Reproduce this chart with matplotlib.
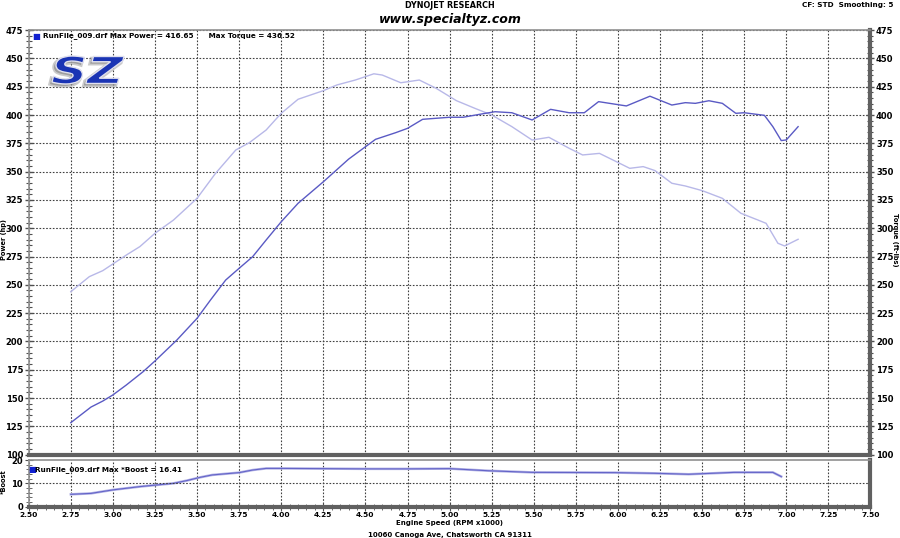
import matplotlib
matplotlib.use('Agg')
import matplotlib.pyplot as plt
from matplotlib.ticker import MultipleLocator
from matplotlib.textpath import TextPath
from matplotlib.patches import PathPatch
from matplotlib.font_manager import FontProperties
from matplotlib.transforms import Affine2D

# power curve (hp)
power_rpm = [2.75, 2.87, 2.94, 3.00, 3.08, 3.18, 3.25, 3.38, 3.50, 3.58, 3.67, 3.75,
             3.83, 3.91, 4.00, 4.10, 4.25, 4.40, 4.56, 4.68, 4.75, 4.84, 5.00, 5.08,
             5.19, 5.27, 5.37, 5.49, 5.60, 5.71, 5.80, 5.885, 6.05, 6.19, 6.32, 6.40,
             6.46, 6.54, 6.62, 6.70, 6.75, 6.87, 6.92, 6.97, 7.00, 7.07]
power_hp = [128.2, 142.0, 147.3, 152.7, 161.5, 173.3, 182.7, 201.2, 220.4, 236.6, 254.2, 264.6,
            274.8, 289.5, 305.7, 322.0, 341.0, 361.0, 378.5, 384.4, 388.2, 396.2, 398.0, 398.0,
            400.9, 402.9, 402.0, 395.6, 405.0, 402.0, 402.0, 411.8, 408.0, 416.6, 408.8, 410.9,
            410.3, 412.6, 410.3, 401.5, 402.0, 399.7, 389.7, 377.4, 378.0, 389.7]

# torque curve (ft-lbs)
torque_rpm = [2.75, 2.86, 2.94, 3.08, 3.16, 3.25, 3.36, 3.50, 3.61, 3.73, 3.81, 3.91,
              4.00, 4.10, 4.25, 4.33, 4.44, 4.55, 4.60, 4.71, 4.82, 4.92, 5.04, 5.15,
              5.25, 5.37, 5.49, 5.59, 5.71, 5.79, 5.89, 5.99, 6.07, 6.15, 6.22, 6.32,
              6.40, 6.50, 6.62, 6.73, 6.83, 6.88, 6.95, 6.99, 7.07]
torque_ftlb = [243.9, 257.2, 262.5, 276.3, 283.7, 295.5, 307.2, 326.4, 348.5, 369.1, 375.5, 386.7,
               401.5, 413.9, 421.5, 426.5, 430.9, 436.4, 435.3, 428.5, 430.9, 423.6, 412.7, 405.9,
               400.0, 389.7, 377.9, 380.3, 370.6, 364.7, 366.1, 358.8, 352.9, 354.4, 350.9, 339.7,
               337.3, 333.2, 326.4, 313.2, 307.3, 304.3, 286.7, 284.3, 290.2]

# boost (psi)
boost_rpm = [2.75, 2.87, 3.00, 3.16, 3.26, 3.36, 3.44, 3.52, 3.59, 3.75, 3.83, 3.91,
             4.00, 4.50, 4.75, 5.00, 5.23, 5.49, 5.98, 6.22, 6.42, 6.69, 6.92, 6.97]
boost_psi = [5.3, 5.7, 7.2, 8.6, 9.3, 10.0, 11.2, 12.6, 13.6, 14.6, 15.7, 16.4,
             16.4, 16.2, 16.2, 16.3, 15.4, 14.7, 14.6, 14.3, 13.9, 14.7, 14.7, 12.9]

power_color = '#5a5ac4'
torque_color = '#b8b8e8'
grid_kw = dict(color='#404040', linestyle=(0, (1.5, 1.5)), linewidth=0.8)
tick_font = dict(fontsize=6, fontweight='bold')

fig = plt.figure(figsize=(9, 5.38), dpi=100)

# main power / torque panel
ax = fig.add_axes([28.7 / 900, 1 - 454.6 / 538, 841.8 / 900, 424.5 / 538])
ax.plot(torque_rpm, torque_ftlb, color=torque_color, linewidth=1.0)
ax.plot(power_rpm, power_hp, color=power_color, linewidth=1.0)
ax.set_xlim(2.5, 7.5)
ax.set_ylim(100, 475)
ax.xaxis.set_major_locator(MultipleLocator(0.25))
ax.yaxis.set_minor_locator(MultipleLocator(5))
ax.grid(True, which='major', **grid_kw)
ax.tick_params(axis='x', which='both', bottom=False, labelbottom=False)
ax.tick_params(axis='y', which='both', left=True, right=True, labelleft=True, labelright=True,
               direction='inout', color='#505050', pad=1)
ax.tick_params(axis='y', which='major', length=6, width=1)
ax.tick_params(axis='y', which='minor', length=4, width=0.8)
ax.set_yticks(range(100, 476, 25))
ax.set_yticklabels([str(v) for v in range(100, 476, 25)], **tick_font)
for side in ['left', 'top']:
    ax.spines[side].set_color('#909090')
    ax.spines[side].set_linewidth(1.2)
for side in ['right', 'bottom']:
    ax.spines[side].set_color('#606060')
    ax.spines[side].set_linewidth(3)

ax.text(0.004, 0.995, '\u25a0', transform=ax.transAxes, color='#1020d0', fontsize=6,
        va='top', ha='left')
ax.text(0.017, 0.995, 'RunFile_009.drf Max Power = 416.65      Max Torque = 436.52',
        transform=ax.transAxes, fontsize=5.2, fontweight='bold', va='top', ha='left')

# SZ logo
fp = FontProperties(family='DejaVu Sans', weight='bold', style='italic')
tp = TextPath((0, 0), 'SZ', size=1, prop=fp)
ext = tp.get_extents()
x0, y0, x1, y1 = 52, 56, 124, 84  # pixel box of the logo
sx = (x1 - x0) / ext.width
sy = (y1 - y0) / ext.height
base = Affine2D().translate(-ext.x0, -ext.y0).scale(sx, sy)
shadow = base + Affine2D().translate(x0 - 2, 538 - y1 - 2)
front = base + Affine2D().translate(x0, 538 - y1)
fig.patches.append(PathPatch(shadow.transform_path(tp), facecolor='#505050', edgecolor='#a0a0a0',
                             linewidth=2.5, alpha=0.55, transform=None, figure=fig))
fig.patches.append(PathPatch(front.transform_path(tp), facecolor='#1a34b4', edgecolor='#e0e0ee',
                             linewidth=1.0, transform=None, figure=fig))

# boost panel
bx = fig.add_axes([28.7 / 900, 1 - 506.7 / 538, 841.8 / 900, 46.7 / 538])
bx.plot(boost_rpm, boost_psi, color='#b4b4e6', linewidth=1.8)
bx.plot(boost_rpm, boost_psi, color='#6464c8', linewidth=0.8)
bx.set_xlim(2.5, 7.5)
bx.set_ylim(0, 20)
bx.xaxis.set_minor_locator(MultipleLocator(0.05))
bx.set_yticks([0, 10, 20])
bx.set_yticklabels(['0', '10', '20'], **tick_font)
bx.yaxis.set_minor_locator(MultipleLocator(2))
xt = [2.5 + 0.25 * i for i in range(21)]
bx.set_xticks(xt)
bx.set_xticklabels(['%.2f' % v for v in xt], fontsize=5.4, fontweight='bold')
bx.grid(True, axis='x', which='major', **grid_kw)
bx.axhline(10, **grid_kw)
bx.tick_params(axis='x', which='both', direction='inout', color='#505050', pad=0.5)
bx.tick_params(axis='x', which='major', length=6)
bx.tick_params(axis='x', which='minor', length=4)
bx.tick_params(axis='y', which='both', direction='inout', color='#505050', pad=1)
bx.tick_params(axis='y', which='major', length=6)
bx.tick_params(axis='y', which='minor', length=4)
for side in ['left', 'top']:
    bx.spines[side].set_color('#909090')
    bx.spines[side].set_linewidth(1.2)
for side in ['right', 'bottom']:
    bx.spines[side].set_color('#606060')
    bx.spines[side].set_linewidth(3)
bx.text(0.0, 0.8, '\u25a0', transform=bx.transAxes, color='#1020d0', fontsize=6,
        va='center', ha='left')
bx.text(0.008, 0.8, 'RunFile_009.drf Max *Boost = 16.41', transform=bx.transAxes,
        fontsize=5.2, fontweight='bold', va='center', ha='left')

# labels and headers
fig.text(0.5, 1 - 6 / 538, 'DYNOJET RESEARCH', ha='center', va='center', fontsize=5.8,
         fontweight='bold')
fig.text(0.5, 1 - 19 / 538, 'www.specialtyz.com', ha='center', va='center', fontsize=9,
         fontweight='bold', style='italic')
fig.text(893 / 900, 1 - 5 / 538, 'CF: STD  Smoothing: 5', ha='right', va='center',
         fontsize=5.2, fontweight='bold')
fig.text(4 / 900, 1 - 240 / 538, 'Power (hp)', rotation=90, ha='center', va='center',
         fontsize=4.8, fontweight='bold')
fig.text(895.5 / 900, 1 - 240 / 538, 'Torque (ft-lbs)', rotation=-90, ha='center', va='center',
         fontsize=4.8, fontweight='bold')
fig.text(4 / 900, 1 - 482 / 538, '*Boost', rotation=90, ha='center', va='center',
         fontsize=4.8, fontweight='bold')
fig.text(0.5, 1 - 523 / 538, 'Engine Speed (RPM x1000)', ha='center', va='center',
         fontsize=5.0, fontweight='bold')
fig.text(0.5, 1 - 534.5 / 538, '10060 Canoga Ave, Chatsworth CA 91311', ha='center',
         va='center', fontsize=5.0, fontweight='bold')

fig.savefig('out.png', dpi=100)
